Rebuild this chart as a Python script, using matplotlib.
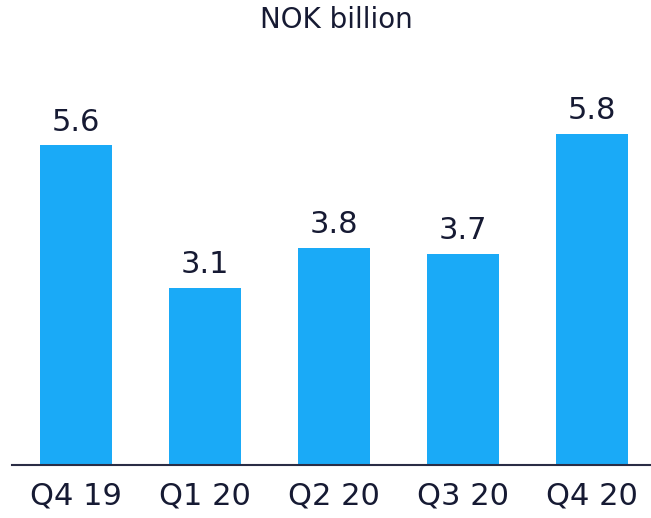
import matplotlib
matplotlib.use('Agg')
import matplotlib.pyplot as plt

# --- данные ---
quarters = ['Q4 19', 'Q1 20', 'Q2 20', 'Q3 20', 'Q4 20']
values = [5.6, 3.1, 3.8, 3.7, 5.8]
title = 'NOK billion'

bar_color = '#1AAAF7'
text_color = '#161A33'

fig = plt.figure(figsize=(6.51, 5.18), dpi=100)
ax = fig.add_axes([12 / 651, 53 / 518, 639 / 651, 365 / 518])

x = list(range(len(quarters)))
bars = ax.bar(x, values, width=0.56, color=bar_color)

# подписи значений над столбцами
for b, v in zip(bars, values):
    ax.text(b.get_x() + b.get_width() / 2, v + 0.15, f'{v:.1f}',
            ha='center', va='bottom', fontsize=22, color=text_color)

ax.set_xlim(-0.496, 4.457)
ax.set_ylim(0, 365 / 57.1)
ax.set_xticks(x)
ax.set_xticklabels(quarters, fontsize=22, color=text_color)
ax.tick_params(axis='x', length=0, pad=12)
ax.set_yticks([])

for s in ['top', 'right', 'left']:
    ax.spines[s].set_visible(False)
ax.spines['bottom'].set_color('#2A2D45')
ax.spines['bottom'].set_linewidth(1.5)

fig.text(336 / 651, 1 - 20 / 518, title, ha='center', va='center',
         fontsize=20, color=text_color)

fig.savefig('out.png', dpi=100)
